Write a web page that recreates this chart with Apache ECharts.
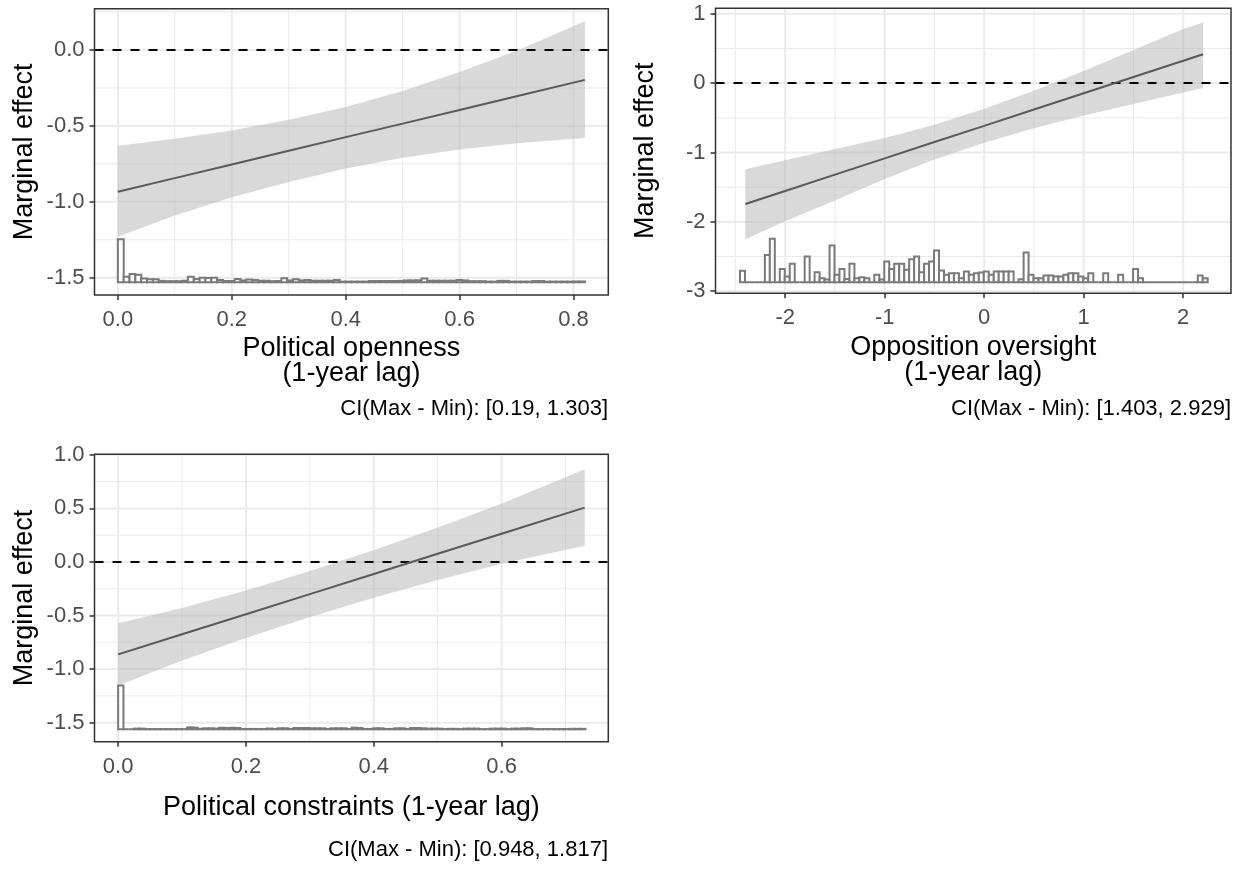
<!DOCTYPE html>
<html>
<head>
<meta charset="utf-8">
<title>Marginal effects</title>
<script src="https://cdn.jsdelivr.net/npm/echarts@6.0.0/dist/echarts.min.js"></script>
<style>
html, body { margin: 0; padding: 0; background: #fff; }
#chart { width: 1243px; height: 877px; }
</style>
</head>
<body>
<div id="chart"></div>
<script>
// ---- panel 1: political openness ----
const p1X = [0, 0.1, 0.2, 0.3, 0.4, 0.5, 0.6, 0.7, 0.82];
const p1Effect = [-0.934, -0.844, -0.754, -0.664, -0.574, -0.485, -0.395, -0.305, -0.197];
const p1Upper = [-0.63, -0.585, -0.53, -0.46, -0.375, -0.27, -0.145, -0.005, 0.19];
const p1Lower = [-1.23, -1.09, -0.97, -0.87, -0.78, -0.71, -0.655, -0.615, -0.58];
const p1HistStart = 0, p1HistWidth = 0.01025, p1HistBase = -1.530;
const p1Hist = [
  0.283, 0.037, 0.055, 0.05, 0.024, 0.02, 0.02, 0.009, 0.007, 0.007,
  0.007, 0.01, 0.037, 0.022, 0.03, 0.028, 0.03, 0.015, 0.008, 0.008,
  0.022, 0.012, 0.018, 0.015, 0.01, 0.01, 0.007, 0.008, 0.026, 0.012,
  0.02, 0.012, 0.015, 0.01, 0.01, 0.01, 0.01, 0.015, 0.004, 0.004,
  0.004, 0.004, 0.004, 0.008, 0.008, 0.008, 0.008, 0.008, 0.009, 0.012,
  0.012, 0.013, 0.024, 0.01, 0.01, 0.01, 0.01, 0.01, 0.015, 0.012,
  0.007, 0.007, 0.007, 0.004, 0.004, 0.009, 0.009, 0.004, 0.004, 0.004,
  0.004, 0.008, 0.008, 0.004, 0.004, 0.004, 0.004, 0.004, 0.005, 0.005
];
const p1XTicks = [0, 0.2, 0.4, 0.6, 0.8];
const p1XMinor = [0.1, 0.3, 0.5, 0.7];
const p1YTicks = [-1.5, -1, -0.5, 0];
const p1YMinor = [-1.25, -0.75, -0.25, 0.25];

// ---- panel 2: opposition oversight ----
const p2X = [-2.4, -2, -1.5, -1, -0.5, 0, 0.5, 1, 1.5, 2, 2.2];
const p2Effect = [-1.742, -1.554, -1.319, -1.084, -0.849, -0.615, -0.380, -0.145, 0.090, 0.324, 0.418];
const p2Upper = [-1.24, -1.11, -0.95, -0.79, -0.60, -0.37, -0.11, 0.175, 0.48, 0.78, 0.875];
const p2Lower = [-2.25, -1.99, -1.69, -1.38, -1.10, -0.86, -0.65, -0.465, -0.30, -0.135, -0.07];
const p2HistStart = -2.454, p2HistWidth = 0.05, p2HistBase = -2.870;
const p2Hist = [
  0.164, 0, 0, 0, 0, 0.394, 0.625, 0, 0.192, 0.082,
  0.265, 0, 0, 0.370, 0, 0.144, 0.058, 0.038, 0.529, 0.106,
  0.192, 0.048, 0.265, 0.058, 0.072, 0.058, 0, 0.106, 0.038, 0.298,
  0.192, 0.265, 0.265, 0.178, 0.332, 0.370, 0.144, 0.265, 0.298, 0.457,
  0.168, 0.106, 0.130, 0.130, 0.058, 0.154, 0.106, 0.130, 0.139, 0.154,
  0.106, 0.154, 0.154, 0.154, 0.154, 0, 0.043, 0.428, 0.106, 0.058,
  0.058, 0.096, 0.096, 0.082, 0.082, 0.106, 0.130, 0.130, 0.082, 0.058,
  0.130, 0, 0, 0.130, 0, 0, 0.106, 0, 0, 0.192,
  0.058, 0, 0, 0, 0, 0, 0, 0, 0, 0,
  0, 0, 0.096, 0.058
];
const p2XTicks = [-2, -1, 0, 1, 2];
const p2XMinor = [-2.5, -1.5, -0.5, 0.5, 1.5];
const p2YTicks = [-3, -2, -1, 0, 1];
const p2YMinor = [-2.5, -1.5, -0.5, 0.5];

// ---- panel 3: political constraints ----
const p3X = [0, 0.1, 0.2, 0.3, 0.4, 0.5, 0.6, 0.73];
const p3Effect = [-0.863, -0.675, -0.488, -0.300, -0.112, 0.076, 0.263, 0.507];
const p3Upper = [-0.573, -0.430, -0.266, -0.085, 0.110, 0.321, 0.543, 0.865];
const p3Lower = [-1.153, -0.920, -0.710, -0.515, -0.334, -0.169, -0.017, 0.152];
const p3HistStart = 0, p3HistWidth = 0.00831, p3HistBase = -1.562;
const p3Hist = [
  0.408, 0, 0, 0.006, 0.006, 0.002, 0.002, 0.002, 0.002, 0.002,
  0.002, 0.002, 0.002, 0.018, 0.015, 0.004, 0.009, 0.009, 0.006, 0.014,
  0.012, 0.014, 0.012, 0.003, 0.003, 0.003, 0.003, 0.003, 0.007, 0.003,
  0.009, 0.009, 0.003, 0.012, 0.012, 0.012, 0.009, 0.009, 0.009, 0.003,
  0.009, 0.009, 0.009, 0.003, 0.015, 0.012, 0.003, 0.003, 0.009, 0.009,
  0.003, 0.003, 0.009, 0.009, 0.003, 0.012, 0.012, 0.009, 0.006, 0.006,
  0.006, 0.003, 0.004, 0.004, 0.002, 0.006, 0.006, 0.006, 0.002, 0.002,
  0.006, 0.006, 0.006, 0.002, 0.006, 0.006, 0.009, 0.009, 0.002, 0.002,
  0.002, 0.002, 0.002, 0.002, 0.002, 0.004, 0.004, 0.004
];
const p3XTicks = [0, 0.2, 0.4, 0.6];
const p3XMinor = [0.1, 0.3, 0.5, 0.7];
const p3YTicks = [-1.5, -1, -0.5, 0, 0.5, 1];
const p3YMinor = [-1.25, -0.75, -0.25, 0.25, 0.75];

const FONT = "'Liberation Sans', Arial, sans-serif";

// 网格线 (custom series, 画在最底层)
function gridLineItem(params, api) {
  const cs = params.coordSys;
  const v = api.value(0);
  const isX = api.value(1) === 0;
  const w = api.value(2) ? 2 : 1;
  let shape;
  if (isX) {
    const px = api.coord([v, 0])[0];
    shape = { x1: px, y1: cs.y, x2: px, y2: cs.y + cs.height };
  } else {
    const py = api.coord([0, v])[1];
    shape = { x1: cs.x, y1: py, x2: cs.x + cs.width, y2: py };
  }
  return { type: 'line', shape: shape, style: { stroke: '#ebebeb', lineWidth: w } };
}

function ribbonItem(xs, lo, hi) {
  return function (params, api) {
    if (params.dataIndex !== 0) return null;
    const pts = [];
    for (let i = 0; i < xs.length; i++) pts.push(api.coord([xs[i], hi[i]]));
    for (let i = xs.length - 1; i >= 0; i--) pts.push(api.coord([xs[i], lo[i]]));
    return { type: 'polygon', shape: { points: pts }, style: { fill: 'rgba(179,179,179,0.5)' } };
  };
}

function histItem(base) {
  return function (params, api) {
    const a = api.coord([api.value(0), api.value(2)]);
    const b = api.coord([api.value(1), base]);
    return {
      type: 'rect',
      shape: { x: a[0], y: a[1], width: b[0] - a[0], height: b[1] - a[1] },
      style: { fill: '#ffffff', stroke: '#7a7a7a', lineWidth: 2 }
    };
  };
}

const panels = [
  {
    grid: { left: 94.5, top: 8.7, width: 513.8, height: 286.3 },
    xRange: [-0.041, 0.861], yRange: [-1.614, 0.272],
    xTicks: p1XTicks, xMinor: p1XMinor, yTicks: p1YTicks, yMinor: p1YMinor, digits: 1,
    xName: 'Political openness\n(1-year lag)', xGap: 41,
    x: p1X, effect: p1Effect, upper: p1Upper, lower: p1Lower,
    hist: p1Hist, histStart: p1HistStart, histWidth: p1HistWidth, histBase: p1HistBase,
    caption: 'CI(Max - Min): [0.19, 1.303]', capX: 608, capY: 409
  },
  {
    grid: { left: 715.5, top: 8.3, width: 515.5, height: 285 },
    xRange: [-2.70, 2.48], yRange: [-3.03, 1.08],
    xTicks: p2XTicks, xMinor: p2XMinor, yTicks: p2YTicks, yMinor: p2YMinor, digits: 0,
    xName: 'Opposition oversight\n(1-year lag)', xGap: 42,
    x: p2X, effect: p2Effect, upper: p2Upper, lower: p2Lower,
    hist: p2Hist, histStart: p2HistStart, histWidth: p2HistWidth, histBase: p2HistBase,
    caption: 'CI(Max - Min): [1.403, 2.929]', capX: 1231, capY: 409
  },
  {
    grid: { left: 94.5, top: 454.3, width: 513.8, height: 287.4 },
    xRange: [-0.037, 0.767], yRange: [-1.678, 1.005],
    xTicks: p3XTicks, xMinor: p3XMinor, yTicks: p3YTicks, yMinor: p3YMinor, digits: 1,
    xName: 'Political constraints (1-year lag)', xGap: 53,
    x: p3X, effect: p3Effect, upper: p3Upper, lower: p3Lower,
    hist: p3Hist, histStart: p3HistStart, histWidth: p3HistWidth, histBase: p3HistBase,
    caption: 'CI(Max - Min): [0.948, 1.817]', capX: 608, capY: 850
  }
];

const option = {
  animation: false,
  backgroundColor: '#ffffff',
  textStyle: { fontFamily: FONT },
  grid: [], xAxis: [], yAxis: [], series: [], graphic: []
};

panels.forEach(function (p, i) {
  option.grid.push(Object.assign({
    show: true, z: 10, backgroundColor: 'transparent',
    borderColor: '#333333', borderWidth: 1.5, containLabel: false
  }, p.grid));

  const fmt = function (v) { return Number(v).toFixed(p.digits); };
  const tickStyle = { length: 5, lineStyle: { color: '#333333', width: 1.5 } };

  option.xAxis.push({
    type: 'value', gridIndex: i, min: p.xRange[0], max: p.xRange[1],
    axisLine: { show: false, onZero: false },
    axisTick: Object.assign({ show: true, customValues: p.xTicks }, tickStyle),
    axisLabel: { customValues: p.xTicks, formatter: fmt, color: '#4d4d4d', fontSize: 22, margin: 14, fontFamily: FONT },
    splitLine: { show: false },
    name: p.xName, nameLocation: 'middle', nameGap: p.xGap,
    nameTextStyle: { fontSize: 27, color: '#000', lineHeight: 25, fontFamily: FONT }
  });
  option.yAxis.push({
    type: 'value', gridIndex: i, min: p.yRange[0], max: p.yRange[1],
    axisLine: { show: false, onZero: false },
    axisTick: Object.assign({ show: true, customValues: p.yTicks }, tickStyle),
    axisLabel: { customValues: p.yTicks, formatter: fmt, color: '#4d4d4d', fontSize: 22, margin: 10, fontFamily: FONT },
    splitLine: { show: false },
    name: 'Marginal effect', nameLocation: 'middle', nameGap: 56,
    nameTextStyle: { fontSize: 27, color: '#000', fontFamily: FONT }
  });

  const gridData = [];
  p.xTicks.forEach(function (v) { gridData.push([v, 0, 1]); });
  p.xMinor.forEach(function (v) { gridData.push([v, 0, 0]); });
  p.yTicks.forEach(function (v) { gridData.push([v, 1, 1]); });
  p.yMinor.forEach(function (v) { gridData.push([v, 1, 0]); });

  option.series.push({
    type: 'custom', name: 'grid' + i, xAxisIndex: i, yAxisIndex: i, z: 1, silent: true,
    renderItem: gridLineItem, data: gridData, encode: { x: -1, y: -1 }
  });

  option.series.push({
    type: 'custom', name: 'ci' + i, xAxisIndex: i, yAxisIndex: i, z: 2, silent: true,
    renderItem: ribbonItem(p.x, p.lower, p.upper),
    data: p.x.map(function (x, k) { return [x, p.lower[k], p.upper[k]]; })
  });

  option.series.push({
    type: 'custom', name: 'hist' + i, xAxisIndex: i, yAxisIndex: i, z: 3, silent: true,
    renderItem: histItem(p.histBase),
    data: p.hist.map(function (h, k) {
      return [p.histStart + k * p.histWidth, p.histStart + (k + 1) * p.histWidth, p.histBase + h];
    })
  });

  option.series.push({
    type: 'line', name: 'effect' + i, xAxisIndex: i, yAxisIndex: i, z: 5, silent: true,
    data: p.x.map(function (x, k) { return [x, p.effect[k]]; }),
    showSymbol: false, symbol: 'none',
    lineStyle: { color: '#595959', width: 2 },
    markLine: {
      silent: true, symbol: ['none', 'none'], label: { show: false },
      lineStyle: { color: '#000000', width: 2, type: [9, 9] },
      emphasis: { disabled: true },
      data: [{ yAxis: 0 }]
    }
  });

  option.graphic.push({
    type: 'text', x: p.capX, y: p.capY, z: 20,
    style: { text: p.caption, fontSize: 22, fontFamily: FONT, fill: '#000', textAlign: 'right', textVerticalAlign: 'middle' }
  });
});

const chart = echarts.init(document.getElementById('chart'));
chart.setOption(option);
window.addEventListener('resize', function () { chart.resize(); });
</script>
</body>
</html>
